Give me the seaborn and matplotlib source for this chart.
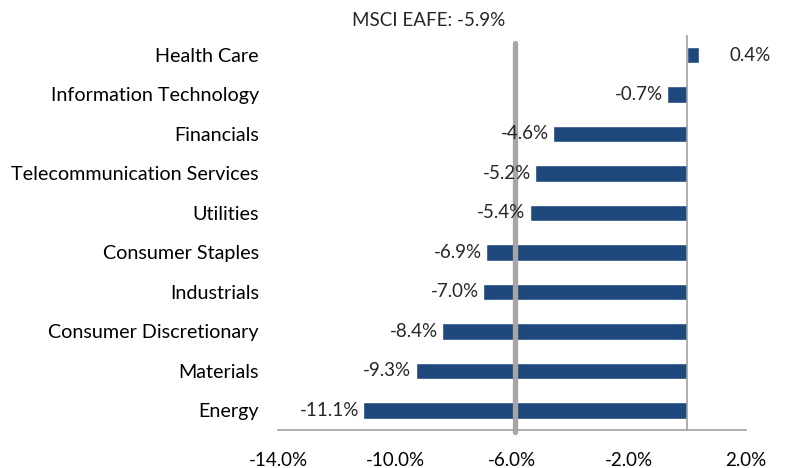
import seaborn as sns
import pandas as pd
import matplotlib.pyplot as plt
from matplotlib.ticker import FuncFormatter

sectors = ["Health Care", "Information Technology", "Financials",
           "Telecommunication Services", "Utilities", "Consumer Staples",
           "Industrials", "Consumer Discretionary", "Materials", "Energy"]
returns = [0.4, -0.7, -4.6, -5.2, -5.4, -6.9, -7.0, -8.4, -9.3, -11.1]
benchmark = -5.9
x_ticks = [-14, -10, -6, -2, 2]

sns.set_style("white")
plt.rcParams["font.family"] = ["Lato", "DejaVu Sans"]

df = pd.DataFrame({"sector": sectors, "ret": returns})

fig = plt.figure(figsize=(7.86, 4.68), dpi=100)
ax = fig.add_axes([0.354, 0.0812, 0.595, 0.8434])

sns.barplot(data=df, x="ret", y="sector", orient="h", color="#1F497D",
            width=0.42, saturation=1, ax=ax)

ax.set_xlim(-14, 2)
ax.set_ylim(9.5, -0.5)
ax.set_xticks(x_ticks)
ax.xaxis.set_major_formatter(FuncFormatter(lambda v, p: f"{v:.1f}%"))
ax.set_xlabel("")
ax.set_ylabel("")

for s in ["top", "right", "left"]:
    ax.spines[s].set_visible(False)
ax.spines["bottom"].set_color("#999999")
ax.spines["bottom"].set_linewidth(1.1)
ax.tick_params(axis="x", direction="in", length=5, width=1.1, color="#999999",
               pad=16, labelsize=13.5, labelcolor="black")
ax.tick_params(axis="y", length=0, pad=14, labelsize=14.2, labelcolor="black")

# zero line and benchmark line
ax.axvline(0, color="#999999", lw=1.1, zorder=1)
ax.axvline(benchmark, ymin=-0.005, ymax=0.98, color="#A6A6A6", lw=3.8,
           solid_capstyle="round", clip_on=False, zorder=3)

for i, v in enumerate(returns):
    if v < 0:
        ax.annotate(f"{v:.1f}%", (v, i), xytext=(-3, 0), textcoords="offset points",
                    ha="right", va="center", fontsize=13.5)
    else:
        ax.annotate(f"{v:.1f}%", (v, i), xytext=(22, 0), textcoords="offset points",
                    ha="left", va="center", fontsize=13.5)

fig.text(0.545, 0.957, f"MSCI EAFE: {benchmark:.1f}%", ha="center", va="center",
         fontsize=13.5)

fig.savefig("out.png", dpi=100)
